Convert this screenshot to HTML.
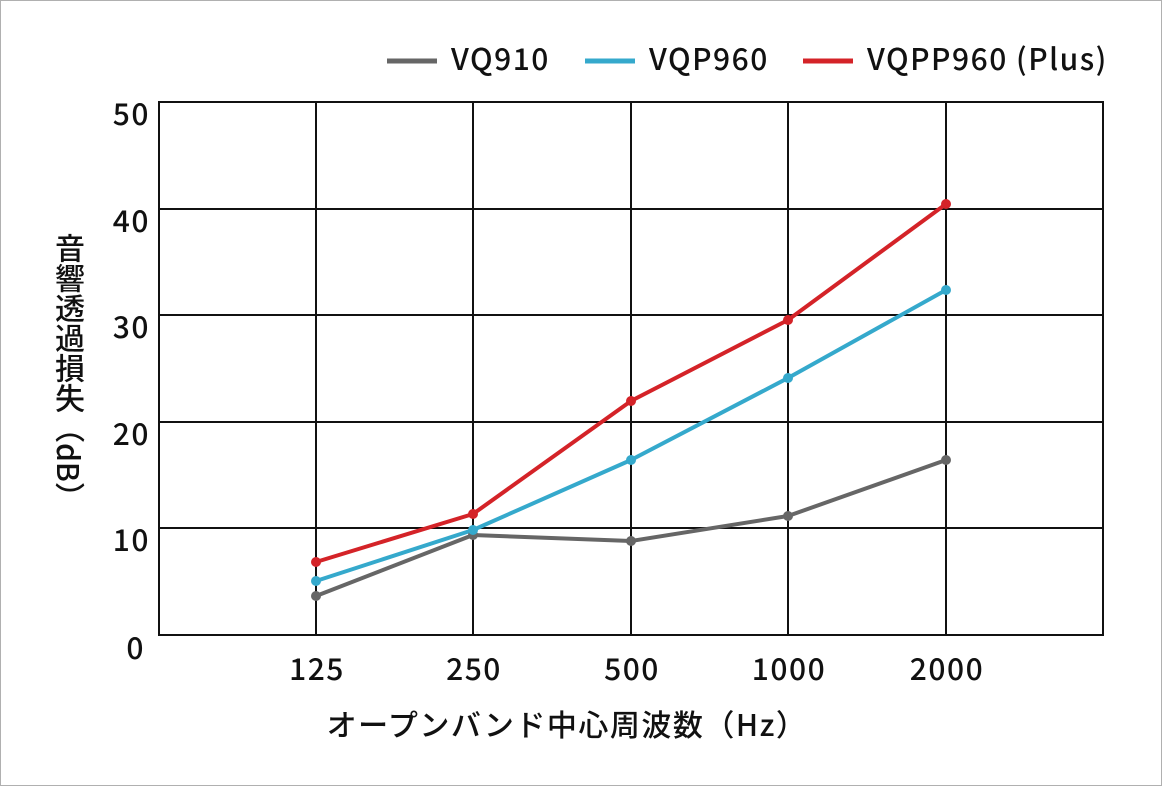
<!DOCTYPE html>
<html><head><meta charset="utf-8"><style>
html,body{margin:0;padding:0;background:#fff}
svg{display:block}
text{font-family:"Noto Sans CJK JP",sans-serif;fill:#111;font-weight:500;letter-spacing:1.5px}
#yl{position:absolute;left:53px;top:233px;writing-mode:vertical-rl;font-family:"Noto Sans CJK JP",sans-serif;font-weight:500;font-size:30px;color:#111;line-height:34px}
</style></head><body>
<div style="position:relative;width:1162px;height:786px">
<svg width="1162" height="786" viewBox="0 0 1162 786" xmlns="http://www.w3.org/2000/svg">
<rect x="0.5" y="0.5" width="1161" height="785" fill="#fff" stroke="#b0b0b0"/>
<g stroke="#111" stroke-width="2" fill="none">
<rect x="159" y="102" width="944" height="533"/>
<line x1="316" y1="102" x2="316" y2="635"/>
<line x1="473" y1="102" x2="473" y2="635"/>
<line x1="631" y1="102" x2="631" y2="635"/>
<line x1="788" y1="102" x2="788" y2="635"/>
<line x1="946" y1="102" x2="946" y2="635"/>
<line x1="159" y1="209" x2="1103" y2="209"/>
<line x1="159" y1="315" x2="1103" y2="315"/>
<line x1="159" y1="422" x2="1103" y2="422"/>
<line x1="159" y1="528" x2="1103" y2="528"/>
</g>
<g font-size="30" text-anchor="end">
<text x="150" y="125">50</text>
<text x="150" y="232">40</text>
<text x="150" y="338">30</text>
<text x="150" y="445">20</text>
<text x="150" y="551">10</text>
<text x="145" y="659">0</text>
</g>
<g font-size="30" text-anchor="middle">
<text x="317" y="680">125</text>
<text x="474" y="680">250</text>
<text x="632" y="680">500</text>
<text x="789" y="680">1000</text>
<text x="947" y="680">2000</text>
<text x="567" y="736" font-size="30" letter-spacing="2">オープンバンド中心周波数（Hz）</text>
</g>
<g stroke-width="4" fill="none" stroke-linejoin="round">
<polyline stroke="#666" points="316,596 473,535 631,541 788,516 946,460"/>
<polyline stroke="#35a9cc" points="316,581 473,530 631,460 788,378 946,290"/>
<polyline stroke="#d42328" points="316,562 473,514 631,401 788,320 946,204"/>
</g>
<g fill="#666"><circle cx="316" cy="596" r="5"/><circle cx="473" cy="535" r="5"/><circle cx="631" cy="541" r="5"/><circle cx="788" cy="516" r="5"/><circle cx="946" cy="460" r="5"/></g>
<g fill="#35a9cc"><circle cx="316" cy="581" r="5"/><circle cx="473" cy="530" r="5"/><circle cx="631" cy="460" r="5"/><circle cx="788" cy="378" r="5"/><circle cx="946" cy="290" r="5"/></g>
<g fill="#d42328"><circle cx="316" cy="562" r="5"/><circle cx="473" cy="514" r="5"/><circle cx="631" cy="401" r="5"/><circle cx="788" cy="320" r="5"/><circle cx="946" cy="204" r="5"/></g>
<g stroke-width="5">
<line x1="387" y1="61" x2="437" y2="61" stroke="#666"/>
<line x1="585" y1="61" x2="635" y2="61" stroke="#35a9cc"/>
<line x1="803" y1="61" x2="853" y2="61" stroke="#d42328"/>
</g>
<g font-size="30">
<text x="451" y="70">VQ910</text>
<text x="649" y="70">VQP960</text>
<text x="867" y="70">VQPP960 (Plus)</text>
</g>
</svg>
<div id="yl">音響透過損失（dB）</div>
</div>
</body></html>
